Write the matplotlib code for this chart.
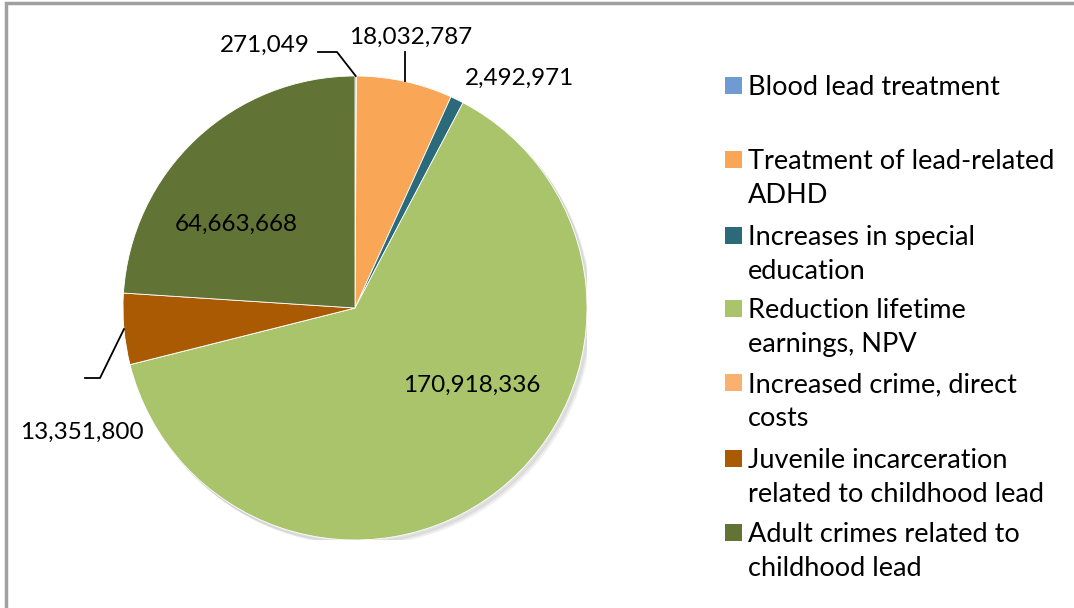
import numpy as np
import matplotlib
matplotlib.use("Agg")
import matplotlib.pyplot as plt
from matplotlib.patches import Rectangle, Circle

plt.rcParams['font.family'] = ['Lato', 'DejaVu Sans']

categories = ["Blood lead treatment",
              "Treatment of lead-related\nADHD",
              "Increases in special\neducation",
              "Reduction lifetime\nearnings, NPV",
              "Increased crime, direct\ncosts",
              "Juvenile incarceration\nrelated to childhood lead",
              "Adult crimes related to\nchildhood lead"]
values = [271049, 18032787, 2492971, 170918336, 0, 13351800, 64663668]
colors = ["#6f9bd3", "#f9a656", "#2b6a7a", "#a9c46b", "#fbb16e", "#aa5a02", "#627435"]

W, H = 1074, 608
fig = plt.figure(figsize=(W / 100, H / 100), dpi=100)

# chart border (only top/left edges visible in the reference)
fig.patches.append(Rectangle((6 / W, -0.1), 2.0, (H - 3) / H + 0.1, transform=fig.transFigure,
                             fill=False, edgecolor="#a0a0a0", linewidth=2.5))

cx, cy, r = 355, 308, 232
ax = fig.add_axes([(cx - r) / W, (H - cy - r) / H, 2 * r / W, 2 * r / H])
ax.axis("off")

# soft shadow
for i, a in enumerate([0.05, 0.04, 0.03]):
    ax.add_patch(Circle((0.010 + i * 0.005, -0.012 - i * 0.005), 1.0, color="black", alpha=a, zorder=0))

wedges, _ = ax.pie(values, colors=colors, startangle=90, counterclock=False, radius=1,
                   wedgeprops=dict(linewidth=0.6, edgecolor="white"))
ax.set_xlim(-1, 1)
ax.set_ylim(-1, 1)
ax.set_aspect("equal")

total = sum(values)
cum = np.cumsum([0] + values[:-1])
mids = [np.deg2rad(90 - 360 * (c + v / 2) / total) for c, v in zip(cum, values)]


def px(x, y):
    return (x - cx) / r, (cy - y) / r


def edge(i):
    return np.cos(mids[i]), np.sin(mids[i])


fs = 19.5
kw = dict(fontsize=17.5, color="black", ha="center", va="center")

# 271,049 with leader
ax.text(*px(265, 45), "271,049", **kw)
ex, ey = edge(0)
p1, p2 = px(318, 52), px(337, 52)
ax.plot([p1[0], p2[0], ex], [p1[1], p2[1], ey], color="black", lw=1.3, clip_on=False)

# 18,032,787 with leader
ax.text(*px(411, 37), "18,032,787", **kw)
ex, ey = edge(1)
ax.plot([ex, ex], [ey, px(0, 52)[1]], color="black", lw=1.3, clip_on=False)

ax.text(*px(520, 78), "2,492,971", **kw)
ax.text(*px(472, 385), "170,918,336", **kw)
ax.text(*px(236, 224), "64,663,668", **kw)

# 13,351,800 with leader
ax.text(*px(82, 432), "13,351,800", **kw)
ex, ey = edge(5)
p1, p2 = px(85, 378), px(100, 378)
ax.plot([p1[0], p2[0], ex], [p1[1], p2[1], ey], color="black", lw=1.3, clip_on=False)

# legend, drawn by hand to follow the spacing of the original
leg_y = [86, 160, 236, 309, 383, 459, 533]
for lab, col, y in zip(categories, colors, leg_y):
    fig.patches.append(Rectangle((725 / W, (H - y - 8) / H), 17 / W, 17 / H,
                                 transform=fig.transFigure, facecolor=col, edgecolor="none"))
    fig.text(748 / W, (H - y + 11) / H, lab, fontsize=fs, va="top", ha="left",
             linespacing=1.45)

fig.savefig("out.png", dpi=100)
